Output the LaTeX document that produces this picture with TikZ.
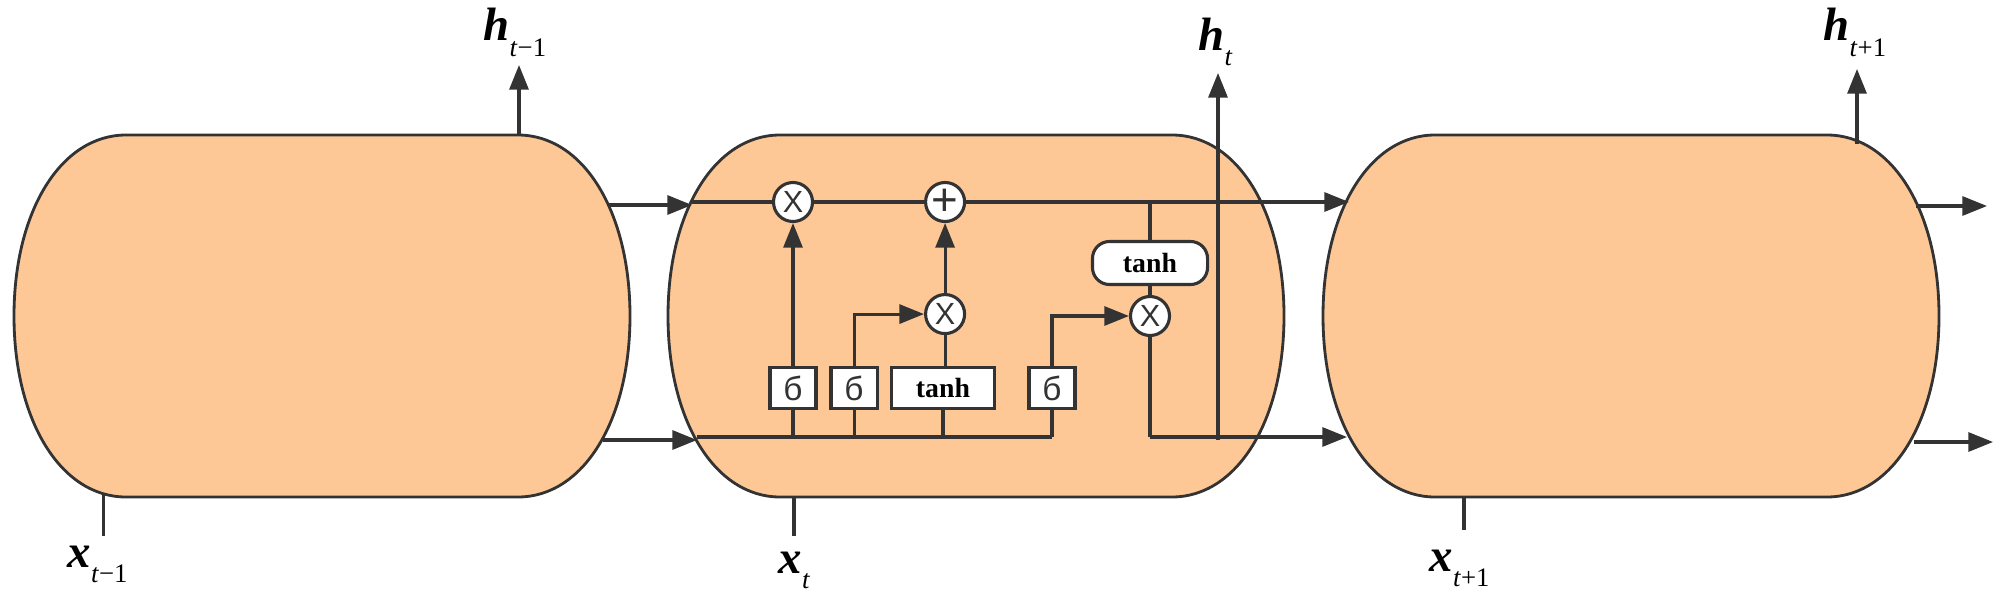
\documentclass[tikz,border=0pt]{standalone}
\usepackage{fontspec}
\setmainfont{Liberation Serif}
\newfontfamily\gatefont{Liberation Sans}
\usetikzlibrary{arrows.meta, shapes, positioning}
\definecolor{cellorange}{HTML}{FDC896}
\definecolor{inkgray}{HTML}{333333}
\newcommand{\seqlabel}[2]{{\fontsize{13.3}{13.3}\selectfont\bfseries\itshape #1}\raisebox{-4.3pt}{\fontsize{7.6}{7.6}\selectfont\textit{t}#2}}

\begin{document}
\begin{tikzpicture}[
                    x=0.01cm, y=-0.01cm,
                    node distance=1cm,
                    cell/.style={rectangle, minimum width=6.16cm, minimum height=3.62cm, inner sep=0pt},
                    gate/.style={circle, draw=inkgray, line width=0.88pt, fill=white, minimum size=0.39cm, inner sep=0pt, font=\gatefont\fontsize{8.7}{8.7}\selectfont, text=inkgray},
                    layer/.style={rectangle, draw=inkgray, line width=0.88pt, fill=white, minimum height=0.41cm, inner sep=0pt, font=\bfseries\fontsize{7.9}{7.9}\selectfont},
                    sigmabox/.style={layer, minimum width=0.46cm, font=\gatefont\fontsize{9.5}{9.5}\selectfont, text=inkgray},
                    seq/.style={anchor=base west, inner sep=0pt, text=black},
                    line/.style={draw=inkgray, line width=0.88pt},
                    arrow/.style={line, -{Triangle[length=7pt, width=5.4pt]}, color=inkgray}
                ]
                    \useasboundingbox (0,0) rectangle (2000,597);

                    % The three cells
                    \foreach \cellname/\cellx in {prevcell/14, curcell/668, nextcell/1323} {
                        \draw [inkgray, line width=0.8pt, fill=cellorange]
                            (\cellx+112,135) -- (\cellx+504,135)
                            .. controls (\cellx+569,135) and (\cellx+616,211) .. (\cellx+616,316)
                            .. controls (\cellx+616,421) and (\cellx+569,497) .. (\cellx+504,497)
                            -- (\cellx+112,497)
                            .. controls (\cellx+47,497) and (\cellx,421) .. (\cellx,316)
                            .. controls (\cellx,211) and (\cellx+47,135) .. (\cellx+112,135) -- cycle;
                        \node [cell] (\cellname) at (\cellx+308,316) {};
                    }

                    % Gates
                    \node [gate] (forget) at (793,202) {X};
                    \node [gate, right of=forget, node distance=1.52cm] (add) {\fontsize{13}{13}\selectfont +};
                    \node [gate, below of=add, yshift=-0.12cm] (update) {X};
                    \node [gate] (output) at (1150,316) {X};

                    % Layers on the lower row
                    \node [sigmabox] (sigmaf) at (793,388) {б};
                    \node [sigmabox, right of=sigmaf, node distance=0.61cm] (sigmai) {б};
                    \node [layer, minimum width=1.03cm] (tanhc) at (943,388) {tanh};
                    \node [sigmabox] (sigmao) at (1052,388) {б};
                    \node [layer, rounded corners=0.17cm, minimum width=1.15cm, minimum height=0.43cm] (tanho) at (1150,263) {tanh};

                    % Free ends
                    \coordinate (cellouttop) at (609,205);
                    \coordinate (celloutbot) at (603,440);
                    \coordinate (celltiptop) at (692,202);
                    \coordinate (celltipbot) at (697,437);
                    \coordinate (nexttiptop) at (1349,202);
                    \coordinate (nexttipbot) at (1347,437);
                    \coordinate (bottap) at (1052,437);
                    \coordinate (turn) at (1150,437);
                    \coordinate (hbase) at (1218,440);
                    \coordinate (htip) at (1218,73);

                    % Edges on the top row
                    \path [arrow] (cellouttop) -- (celltiptop |- cellouttop);
                    \path [line] (celltiptop) -- (forget);
                    \path [line] (forget) -- (add);
                    \path [arrow] (add) -- (nexttiptop);
                    \path [line] (tanho) -- (tanho |- add);

                    % Edges on the bottom row
                    \path [arrow] (celloutbot) -- (celltipbot |- celloutbot);
                    \path [line] (celltipbot) -- (bottap);
                    \path [line] (sigmaf) -- (sigmaf |- bottap);
                    \path [line] (sigmai) -- (sigmai |- bottap);
                    \path [line] (tanhc) -- (tanhc |- bottap);
                    \path [line] (sigmao) -- (bottap);

                    % Edges into the gates
                    \path [arrow] (sigmaf.north) -- (forget);
                    \path [arrow] (update) -- (add);
                    \path [line] (tanhc.north -| update) -- (update);
                    \path [arrow] (sigmai) |- (update);
                    \path [arrow] (sigmao) |- (output);
                    \path [line] (tanho) -- (output);

                    % Output of the cell
                    \path [line] (output) -- (turn);
                    \path [arrow] (turn) -- (nexttipbot);
                    \path [arrow] (hbase) -- (htip);

                    % Outer arrows
                    \path [arrow] (519,135) -- (519,65);
                    \path [arrow] (1857,144) -- (1857,69);
                    \path [arrow] (1916,206) -- (1987,206);
                    \path [arrow] (1914,442) -- (1993,442);

                    % Inputs
                    \path [line] (103.5,495) -- (103.5,536);
                    \path [line] (794,497) -- (794,536);
                    \path [line] (1464,498) -- (1464,530);

                    % Labels
                    \node [seq] (hprev) at (483,41) {\seqlabel{h}{−1}};
                    \node [seq] (hcur) at (1198,50) {\seqlabel{h}{}};
                    \node [seq] (hnext) at (1823,41) {\seqlabel{h}{+1}};
                    \node [seq] (xprev) at (67,567) {\seqlabel{x}{−1}};
                    \node [seq] (xcur) at (778,573) {\seqlabel{x}{}};
                    \node [seq] (xnext) at (1429,571) {\seqlabel{x}{+1}};
                \end{tikzpicture}
\end{document}
